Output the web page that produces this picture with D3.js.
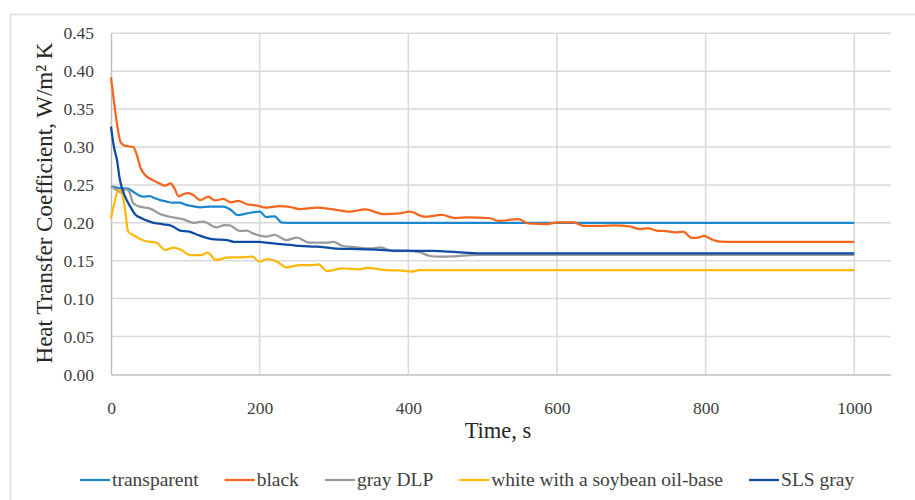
<!DOCTYPE html>
<html>
<head>
<meta charset="utf-8">
<script src="https://cdn.jsdelivr.net/npm/d3@7"></script>
<style>
  html, body { margin: 0; padding: 0; background: #fff; }
  svg { display: block; }
  svg text { font-family: "Liberation Serif", "Times New Roman", serif; }
</style>
</head>
<body>
<svg id="chart" width="915" height="500"></svg>
<script>
// Heat transfer coefficient vs. time for five printed materials, [time s, W/m²K]
const transparent = [[0,0.248],[5,0.247],[12,0.2455],[21,0.2455],[30,0.241],[38,0.236],[44,0.2345],[52,0.2353],[60,0.232],[66,0.230],[75,0.228],[82,0.2266],[93,0.2266],[100,0.224],[106,0.2226],[120,0.2205],[133,0.2213],[151,0.2213],[160,0.2178],[171,0.210],[183,0.2125],[200,0.2147],[209,0.2075],[220,0.2085],[230,0.2002],[240,0.200],[1000,0.200]];
const black = [[0,0.392],[4,0.36],[8,0.331],[13,0.306],[18,0.302],[23,0.301],[30,0.300],[34,0.292],[40,0.272],[45,0.264],[57,0.256],[65,0.252],[73,0.249],[80,0.252],[85,0.246],[91,0.235],[98,0.238],[104,0.239],[110,0.237],[120,0.230],[131,0.2345],[140,0.2295],[151,0.2314],[161,0.227],[171,0.229],[183,0.2245],[195,0.223],[209,0.220],[227,0.222],[240,0.221],[254,0.218],[277,0.220],[299,0.2178],[321,0.2147],[342,0.2178],[366,0.2116],[389,0.2125],[402,0.2147],[422,0.208],[445,0.2103],[463,0.2063],[481,0.2072],[510,0.206],[521,0.2024],[548,0.205],[561,0.1993],[586,0.1984],[602,0.2006],[622,0.2006],[637,0.1958],[658,0.1958],[676,0.1967],[698,0.1954],[711,0.1918],[723,0.1927],[734,0.1896],[747,0.189],[759,0.1874],[770,0.1883],[781,0.180],[790,0.1805],[798,0.1826],[808,0.1782],[819,0.1752],[830,0.175],[1000,0.175]];
const grayDLP = [[0,0.2485],[8,0.243],[14,0.240],[20,0.2445],[25,0.240],[30,0.2257],[39,0.2213],[52,0.219],[66,0.2116],[79,0.208],[97,0.2046],[111,0.200],[124,0.2015],[142,0.194],[153,0.197],[160,0.1965],[173,0.1892],[183,0.1896],[191,0.186],[209,0.1817],[220,0.184],[236,0.1773],[250,0.1803],[267,0.1738],[290,0.1738],[299,0.1747],[312,0.1694],[330,0.1677],[344,0.1664],[353,0.1664],[362,0.1677],[380,0.1625],[398,0.163],[416,0.161],[429,0.1562],[442,0.1553],[460,0.1556],[492,0.1578],[510,0.1578],[1000,0.1578]];
const whiteSoy = [[0,0.206],[5,0.228],[10,0.2433],[14,0.241],[19,0.2169],[23,0.1883],[32,0.1826],[46,0.176],[61,0.1738],[73,0.1641],[84,0.1672],[95,0.164],[106,0.1575],[122,0.1575],[130,0.1606],[141,0.151],[156,0.154],[174,0.1545],[190,0.1553],[200,0.1487],[211,0.1522],[223,0.149],[236,0.1413],[254,0.1443],[269,0.144],[279,0.1452],[291,0.1364],[312,0.140],[335,0.1387],[344,0.1405],[371,0.1377],[398,0.1364],[403,0.1355],[416,0.1377],[1000,0.1375]];
const slsGray = [[0,0.327],[4,0.30],[8,0.283],[12,0.2565],[19,0.2345],[26,0.2213],[32,0.2116],[41,0.206],[55,0.2006],[70,0.198],[82,0.1958],[93,0.1896],[104,0.1887],[117,0.1839],[131,0.1795],[140,0.178],[156,0.1773],[165,0.175],[200,0.175],[209,0.1738],[232,0.1716],[254,0.1694],[277,0.1685],[299,0.1664],[322,0.1655],[344,0.165],[366,0.1641],[389,0.1632],[411,0.163],[434,0.163],[454,0.162],[469,0.161],[496,0.1597],[1000,0.1597]];

const seriesNames = ["transparent", "black", "gray DLP", "white with a soybean oil-base", "SLS gray"];
const seriesData = [transparent, black, grayDLP, whiteSoy, slsGray];
const seriesColors = ["#1b87cf", "#f5651c", "#9a9a9a", "#ffb80a", "#0e4ba3"];

const xTicks = [0, 200, 400, 600, 800, 1000];
const yTicks = [0, 0.05, 0.10, 0.15, 0.20, 0.25, 0.30, 0.35, 0.40, 0.45];
const xMax = 1049;

const serif = '"Liberation Serif", "Times New Roman", serif';
const svg = d3.select("#chart");
const plot = { left: 111, right: 890.7, top: 33.3, bottom: 374.4 };

const x = d3.scaleLinear().domain([0, xMax]).range([plot.left, plot.right]);
const y = d3.scaleLinear().domain([0, 0.45]).range([plot.bottom, plot.top]);

// outer frame (left and top edges visible)
svg.append("path")
  .attr("d", "M10.5,500 V14.5 H915")
  .attr("fill", "none").attr("stroke", "#dcdcdc").attr("stroke-width", 1.5);

// gridlines
const grid = svg.append("g");
grid.selectAll("line.h").data(yTicks.filter(d => d > 0)).join("line")
  .attr("x1", plot.left).attr("x2", plot.right)
  .attr("y1", d => y(d)).attr("y2", d => y(d))
  .attr("stroke", "#d9d9d9").attr("stroke-width", 1.5);
grid.selectAll("line.v").data(xTicks.filter(d => d > 0)).join("line")
  .attr("x1", d => x(d)).attr("x2", d => x(d))
  .attr("y1", plot.top).attr("y2", plot.bottom)
  .attr("stroke", "#d9d9d9").attr("stroke-width", 1.5);

// axes
const xAxis = svg.append("g").attr("transform", `translate(0,${plot.bottom})`)
  .call(d3.axisBottom(x).tickValues(xTicks).tickSize(0).tickPadding(27).tickFormat(d3.format("d")));
const yAxis = svg.append("g").attr("transform", `translate(${plot.left},0)`)
  .call(d3.axisLeft(y).tickValues(yTicks).tickSize(0).tickPadding(17).tickFormat(d3.format(".2f")));
[xAxis, yAxis].forEach(a => {
  a.attr("font-family", null).attr("font-size", null);
  a.select(".domain").attr("stroke", "#bfbfbf").attr("stroke-width", 1.5);
  a.selectAll("text").style("font-family", serif)
    .style("font-size", "17.5px").attr("fill", "#404040");
});

// series lines
const line = d3.line().x(d => x(d[0])).y(d => y(d[1])).curve(d3.curveMonotoneX);
svg.append("g").selectAll("path").data(seriesData).join("path")
  .attr("d", line)
  .attr("fill", "none")
  .attr("stroke", (d, i) => seriesColors[i])
  .attr("stroke-width", 2.25)
  .attr("stroke-linejoin", "round");

// axis titles
svg.append("text")
  .attr("x", 498).attr("y", 438)
  .attr("text-anchor", "middle").style("font-family", serif).style("font-size", "22.5px").attr("fill", "#262626")
  .text("Time, s");
svg.append("text")
  .attr("transform", "translate(52,203) rotate(-90)")
  .attr("text-anchor", "middle").style("font-family", serif).style("font-size", "23px").attr("fill", "#262626")
  .text("Heat Transfer Coefficient, W/m\u00B2 K");

// legend laid out left to right
const legend = svg.append("g");
let lx = 80;
seriesNames.forEach((name, i) => {
  const g = legend.append("g");
  g.append("line").attr("x1", lx).attr("x2", lx + 30).attr("y1", 480).attr("y2", 480)
    .attr("stroke", seriesColors[i]).attr("stroke-width", 2.25);
  const t = g.append("text").attr("x", lx + 32).attr("y", 486)
    .style("font-family", serif).style("font-size", "19.5px").attr("fill", "#404040").text(name);
  lx += 32 + t.node().getComputedTextLength() + 26;
});
</script>
</body>
</html>
